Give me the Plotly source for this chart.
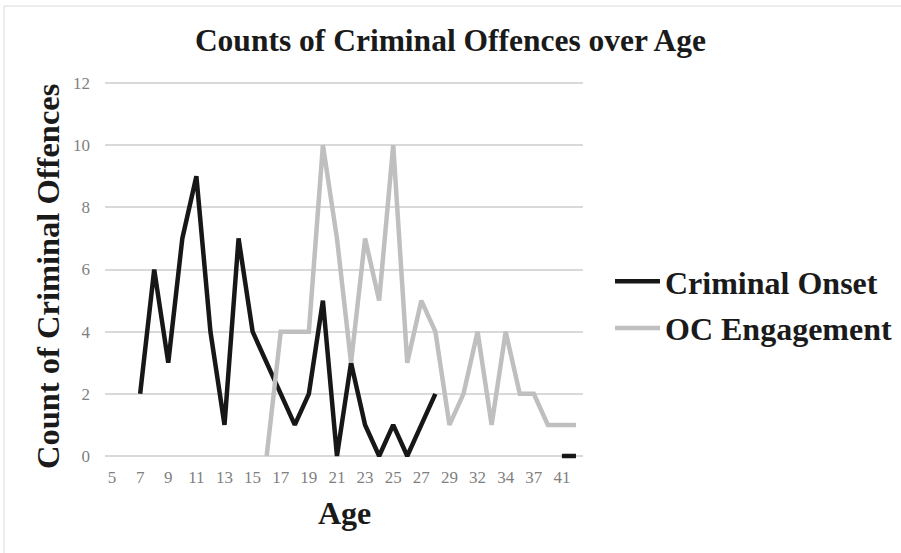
import plotly.graph_objects as go

ages = ["5", "6", "7", "8", "9", "10", "11", "12", "13", "14", "15", "16", "17", "18", "19",
        "20", "21", "22", "23", "24", "25", "26", "27", "28", "29", "30", "32", "33", "34",
        "35", "37", "38", "41", "42"]

criminal_onset = [None, None, 2, 6, 3, 7, 9, 4, 1, 7, 4, 3, 2, 1, 2,
                  5, 0, 3, 1, 0, 1, 0, 1, 2, None, None, None, None, None,
                  None, None, None, 0, 0]

oc_engagement = [None, None, None, None, None, None, None, None, None, None, None, 0, 4, 4, 4,
                 10, 7, 3, 7, 5, 10, 3, 5, 4, 1, 2, 4, 1, 4,
                 2, 2, 1, 1, 1]

tick_labels = ["5", "7", "9", "11", "13", "15", "17", "19", "21", "23", "25", "27", "29",
               "32", "34", "37", "41"]

SERIF = "Liberation Serif"

fig = go.Figure()
fig.add_trace(go.Scatter(x=ages, y=criminal_onset, mode="lines", name="Criminal Onset",
                         legendgroup="a",
                         line=dict(color="#171717", width=4.5), connectgaps=False))
fig.add_trace(go.Scatter(x=ages, y=oc_engagement, mode="lines", name="OC Engagement",
                         legendgroup="b",
                         line=dict(color="#bfbfbf", width=4.5), connectgaps=False))

L, R, T, B = 105, 318, 79, 93
W, H = 901, 553
pw, ph = W - L - R, H - T - B

def px_x(x):
    return (x - L) / pw

def px_y(y):
    return (H - B - y) / ph

fig.update_layout(
    width=W, height=H,
    margin=dict(l=L, r=R, t=T, b=B, autoexpand=False),
    paper_bgcolor="white", plot_bgcolor="white",
    font=dict(family=SERIF, color="#7f7f7f"),
    title=dict(text="Counts of Criminal Offences over Age", x=0.5, xanchor="center",
               y=1 - 40 / H, yanchor="middle", yref="container", xref="container",
               font=dict(family=SERIF, size=31.5, color="#1a1a1a", weight="bold")),
    xaxis=dict(type="category", categoryorder="array", categoryarray=ages,
               range=[-0.5, len(ages) - 0.5], showgrid=False, zeroline=False,
               showline=False, tickmode="array", tickvals=tick_labels, ticktext=tick_labels,
               tickfont=dict(family=SERIF, size=17, color="#7f7f7f"),
               ticklabelstandoff=5),
    yaxis=dict(range=[-0.129, 12.129], tickvals=[0, 2, 4, 6, 8, 10, 12],
               showgrid=True, gridcolor="#d9d9d9", gridwidth=1.5, zeroline=False,
               showline=False,
               tickfont=dict(family=SERIF, size=17, color="#7f7f7f"),
               ticklabelstandoff=14),
    legend=dict(x=px_x(610), xanchor="left", y=px_y(305), yanchor="middle",
                font=dict(family=SERIF, size=32, color="#1a1a1a", weight="bold"),
                bgcolor="rgba(0,0,0,0)", itemwidth=45, tracegroupgap=2,
                traceorder="grouped"),
    showlegend=True,
    annotations=[
        dict(text="Count of Criminal Offences", xref="paper", yref="paper",
             x=px_x(48), y=px_y(277), xanchor="center", yanchor="middle", textangle=-90,
             showarrow=False, font=dict(family=SERIF, size=32.5, color="#1a1a1a", weight="bold")),
        dict(text="Age", xref="paper", yref="paper",
             x=px_x(344), y=px_y(513), xanchor="center", yanchor="middle",
             showarrow=False, font=dict(family=SERIF, size=32, color="#1a1a1a", weight="bold")),
    ],
    shapes=[
        dict(type="line", xref="paper", yref="paper", x0=px_x(4), x1=px_x(4),
             y0=px_y(6), y1=px_y(553), line=dict(color="#d9d9d9", width=1)),
        dict(type="line", xref="paper", yref="paper", x0=px_x(4), x1=px_x(901),
             y0=px_y(6), y1=px_y(6), line=dict(color="#d9d9d9", width=1)),
    ],
)

fig.write_html("out.html", config={"displayModeBar": False},
               post_script="document.body.style.margin='0';")
